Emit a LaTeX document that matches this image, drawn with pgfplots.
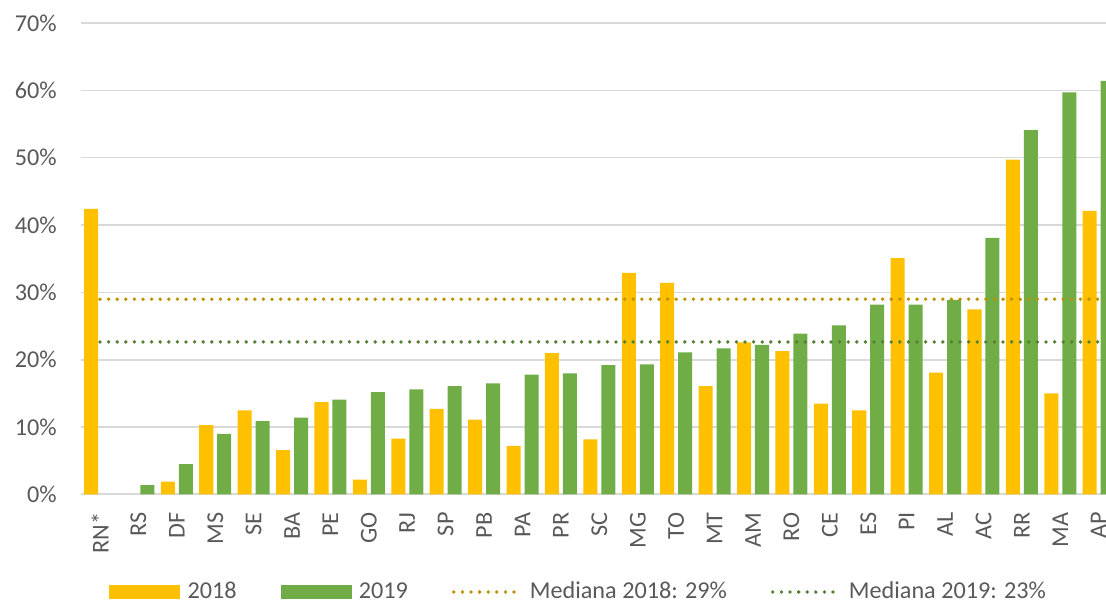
\documentclass[border=0pt]{standalone}
\usepackage{fontspec}
\setmainfont{Carlito}
\usepackage{pgfplots}
\pgfplotsset{compat=1.18}

\definecolor{amar}{HTML}{FFC000}
\definecolor{verde}{HTML}{70AD47}
\definecolor{med18}{HTML}{BF9000}
\definecolor{med19}{HTML}{548235}
\definecolor{grade}{HTML}{D9D9D9}
\definecolor{texto}{HTML}{595959}

\pgfplotsset{
  legbar/.style={legend image code/.code={\fill[##1] (0pt,-3.4pt) rectangle (35.5pt,3.4pt);}},
  legline/.style={legend image code/.code={\draw[##1] (1pt,0pt) -- (34.5pt,0pt);}},
  pontilhado/.style={line width=1.9pt, line cap=round, dash pattern=on 0pt off 4.3pt},
}

\begin{document}
\begin{tikzpicture}
\path[use as bounding box] (0,0) rectangle (553pt,301.5pt);
\begin{axis}[
  at={(40.4pt,54.25pt)}, anchor=south west,
  scale only axis, width=512.6pt, height=235.75pt,
  xmin=-0.5, xmax=26.19, ymin=0, ymax=70,
  axis x line*=bottom, axis y line*=left,
  x axis line style={draw=grade, line width=1pt},
  y axis line style={draw=none},
  major tick length=0pt, tick style={draw=none},
  ymajorgrids, grid style={grade, line width=0.75pt},
  ytick={0,10,...,70},
  yticklabel={\pgfmathprintnumber{\tick}\%},
  /pgf/number format/assume math mode=true,
  yticklabel shift=11.9pt,
  yticklabel style={anchor=east, inner sep=0pt, font=\fontsize{12.1}{14}\selectfont, text=texto},
  xtick={0,...,26},
  xticklabels={RN*,RS,DF,MS,SE,BA,PE,GO,RJ,SP,PB,PA,PR,SC,MG,TO,MT,AM,RO,CE,ES,PI,AL,AC,RR,MA,AP},
  xticklabel shift=8.75pt,
  xticklabel style={rotate=90, anchor=east, inner sep=0pt, font=\fontsize{12.1}{14}\selectfont, text=texto},
  legend columns=4,
  legend style={at={(0.0275,-0.2068)}, anchor=west, draw=none, fill=none, inner sep=0pt,
    font=\fontsize{12.1}{14}\selectfont, text=texto,
    nodes={inner xsep=0pt, inner ysep=1pt},
    /tikz/every odd column/.append style={column sep=3.6pt},
    /tikz/every even column/.append style={column sep=22pt}},
  legend cell align=left,
]
% 2018
\addplot[ybar, fill=amar, draw=none, bar width=0.365, bar shift=-0.234, legbar] coordinates {
  (0,42.4) (2,1.9) (3,10.3) (4,12.5) (5,6.6) (6,13.7) (7,2.2) (8,8.3) (9,12.7)
  (10,11.1) (11,7.2) (12,21.0) (13,8.2) (14,32.9) (15,31.4) (16,16.1) (17,22.6)
  (18,21.3) (19,13.5) (20,12.5) (21,35.1) (22,18.1) (23,27.5) (24,49.7) (25,15.0) (26,42.1)
};
% 2019
\addplot[ybar, fill=verde, draw=none, bar width=0.365, bar shift=0.234, legbar] coordinates {
  (1,1.4) (2,4.5) (3,9.0) (4,10.9) (5,11.4) (6,14.1) (7,15.2) (8,15.6) (9,16.1)
  (10,16.5) (11,17.8) (12,18.0) (13,19.2) (14,19.3) (15,21.1) (16,21.7) (17,22.2)
  (18,23.9) (19,25.1) (20,28.2) (21,28.2) (22,28.9) (23,38.1) (24,54.1) (25,59.7) (26,61.4)
};
% medianas
\addplot[med18, pontilhado, legline] coordinates {(0,29.0) (26,29.0)};
\addplot[med19, pontilhado, legline] coordinates {(0,22.65) (26,22.65)};
\legend{2018,2019,Mediana 2018: 29\%,Mediana 2019: 23\%}
\end{axis}
\end{tikzpicture}
\end{document}
